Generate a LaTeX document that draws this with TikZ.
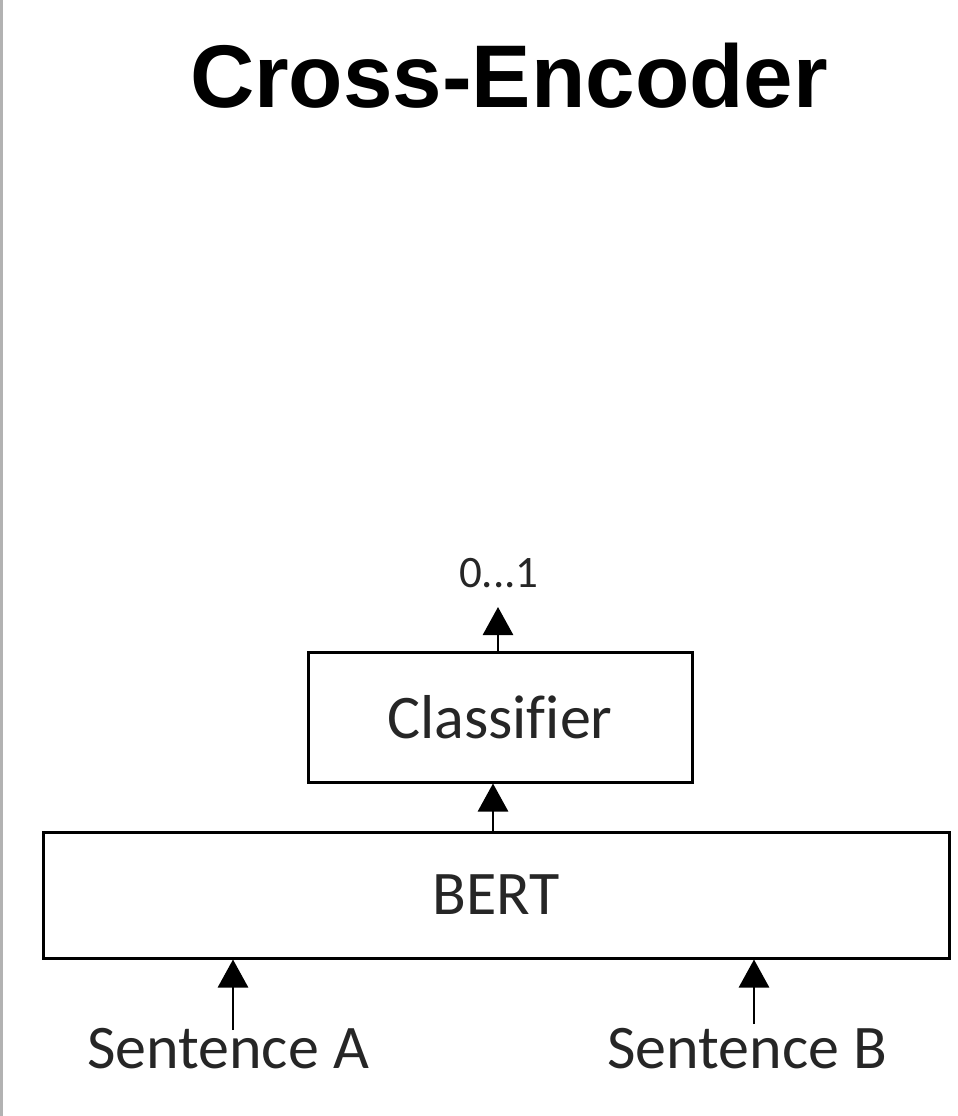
\documentclass[tikz,border=0pt]{standalone}
\usepackage{fontspec}
\setmainfont[Ligatures=NoCommon]{Carlito}
\newfontfamily\titlefont{Liberation Sans}
\usetikzlibrary{arrows.meta}
\begin{document}
\begin{tikzpicture}[x=1pt,y=-1pt,
  boxstyle/.style={draw=black, line width=3pt, rectangle, inner sep=0pt},
  lbl/.style={font=\fontsize{62}{70}\selectfont, text=black!85, inner sep=0pt},
  arr/.style={line width=2.8pt, -{Triangle[width=30pt,length=28pt]}}]
\useasboundingbox (0,0) rectangle (958,1116);
\fill[white] (0,0) rectangle (958,1116);
\draw[black!30, line width=3pt] (1.5,0) -- (1.5,1116);
\node[anchor=base, inner sep=0pt, font=\titlefont\bfseries\fontsize{89}{98}\selectfont] (title) at (509,107) {Cross-Encoder};
\node[boxstyle, minimum width=384pt, minimum height=130pt, lbl] (cls) at (500,717) {Classifier};
\node[boxstyle, minimum width=906pt, minimum height=126pt, lbl] (bert) at (496,895) {BERT};
\node[lbl, anchor=base, font=\fontsize{45}{50}\selectfont] (out) at (499,587) {0...1};
\node[lbl, anchor=base] (sa) at (228,1068) {Sentence A};
\node[lbl, anchor=base] (sb) at (747,1068) {Sentence B};
\coordinate (outtip) at (498,607);
\coordinate (satail) at (233,1030);
\coordinate (sbtail) at (754,1024);
\draw[arr] (cls.north -| outtip) -- (outtip);
\draw[arr] (bert.north -| 493,0) -- (cls.south -| 493,0);
\draw[arr] (satail) -- (satail |- bert.south);
\draw[arr] (sbtail) -- (sbtail |- bert.south);
\end{tikzpicture}
\end{document}
